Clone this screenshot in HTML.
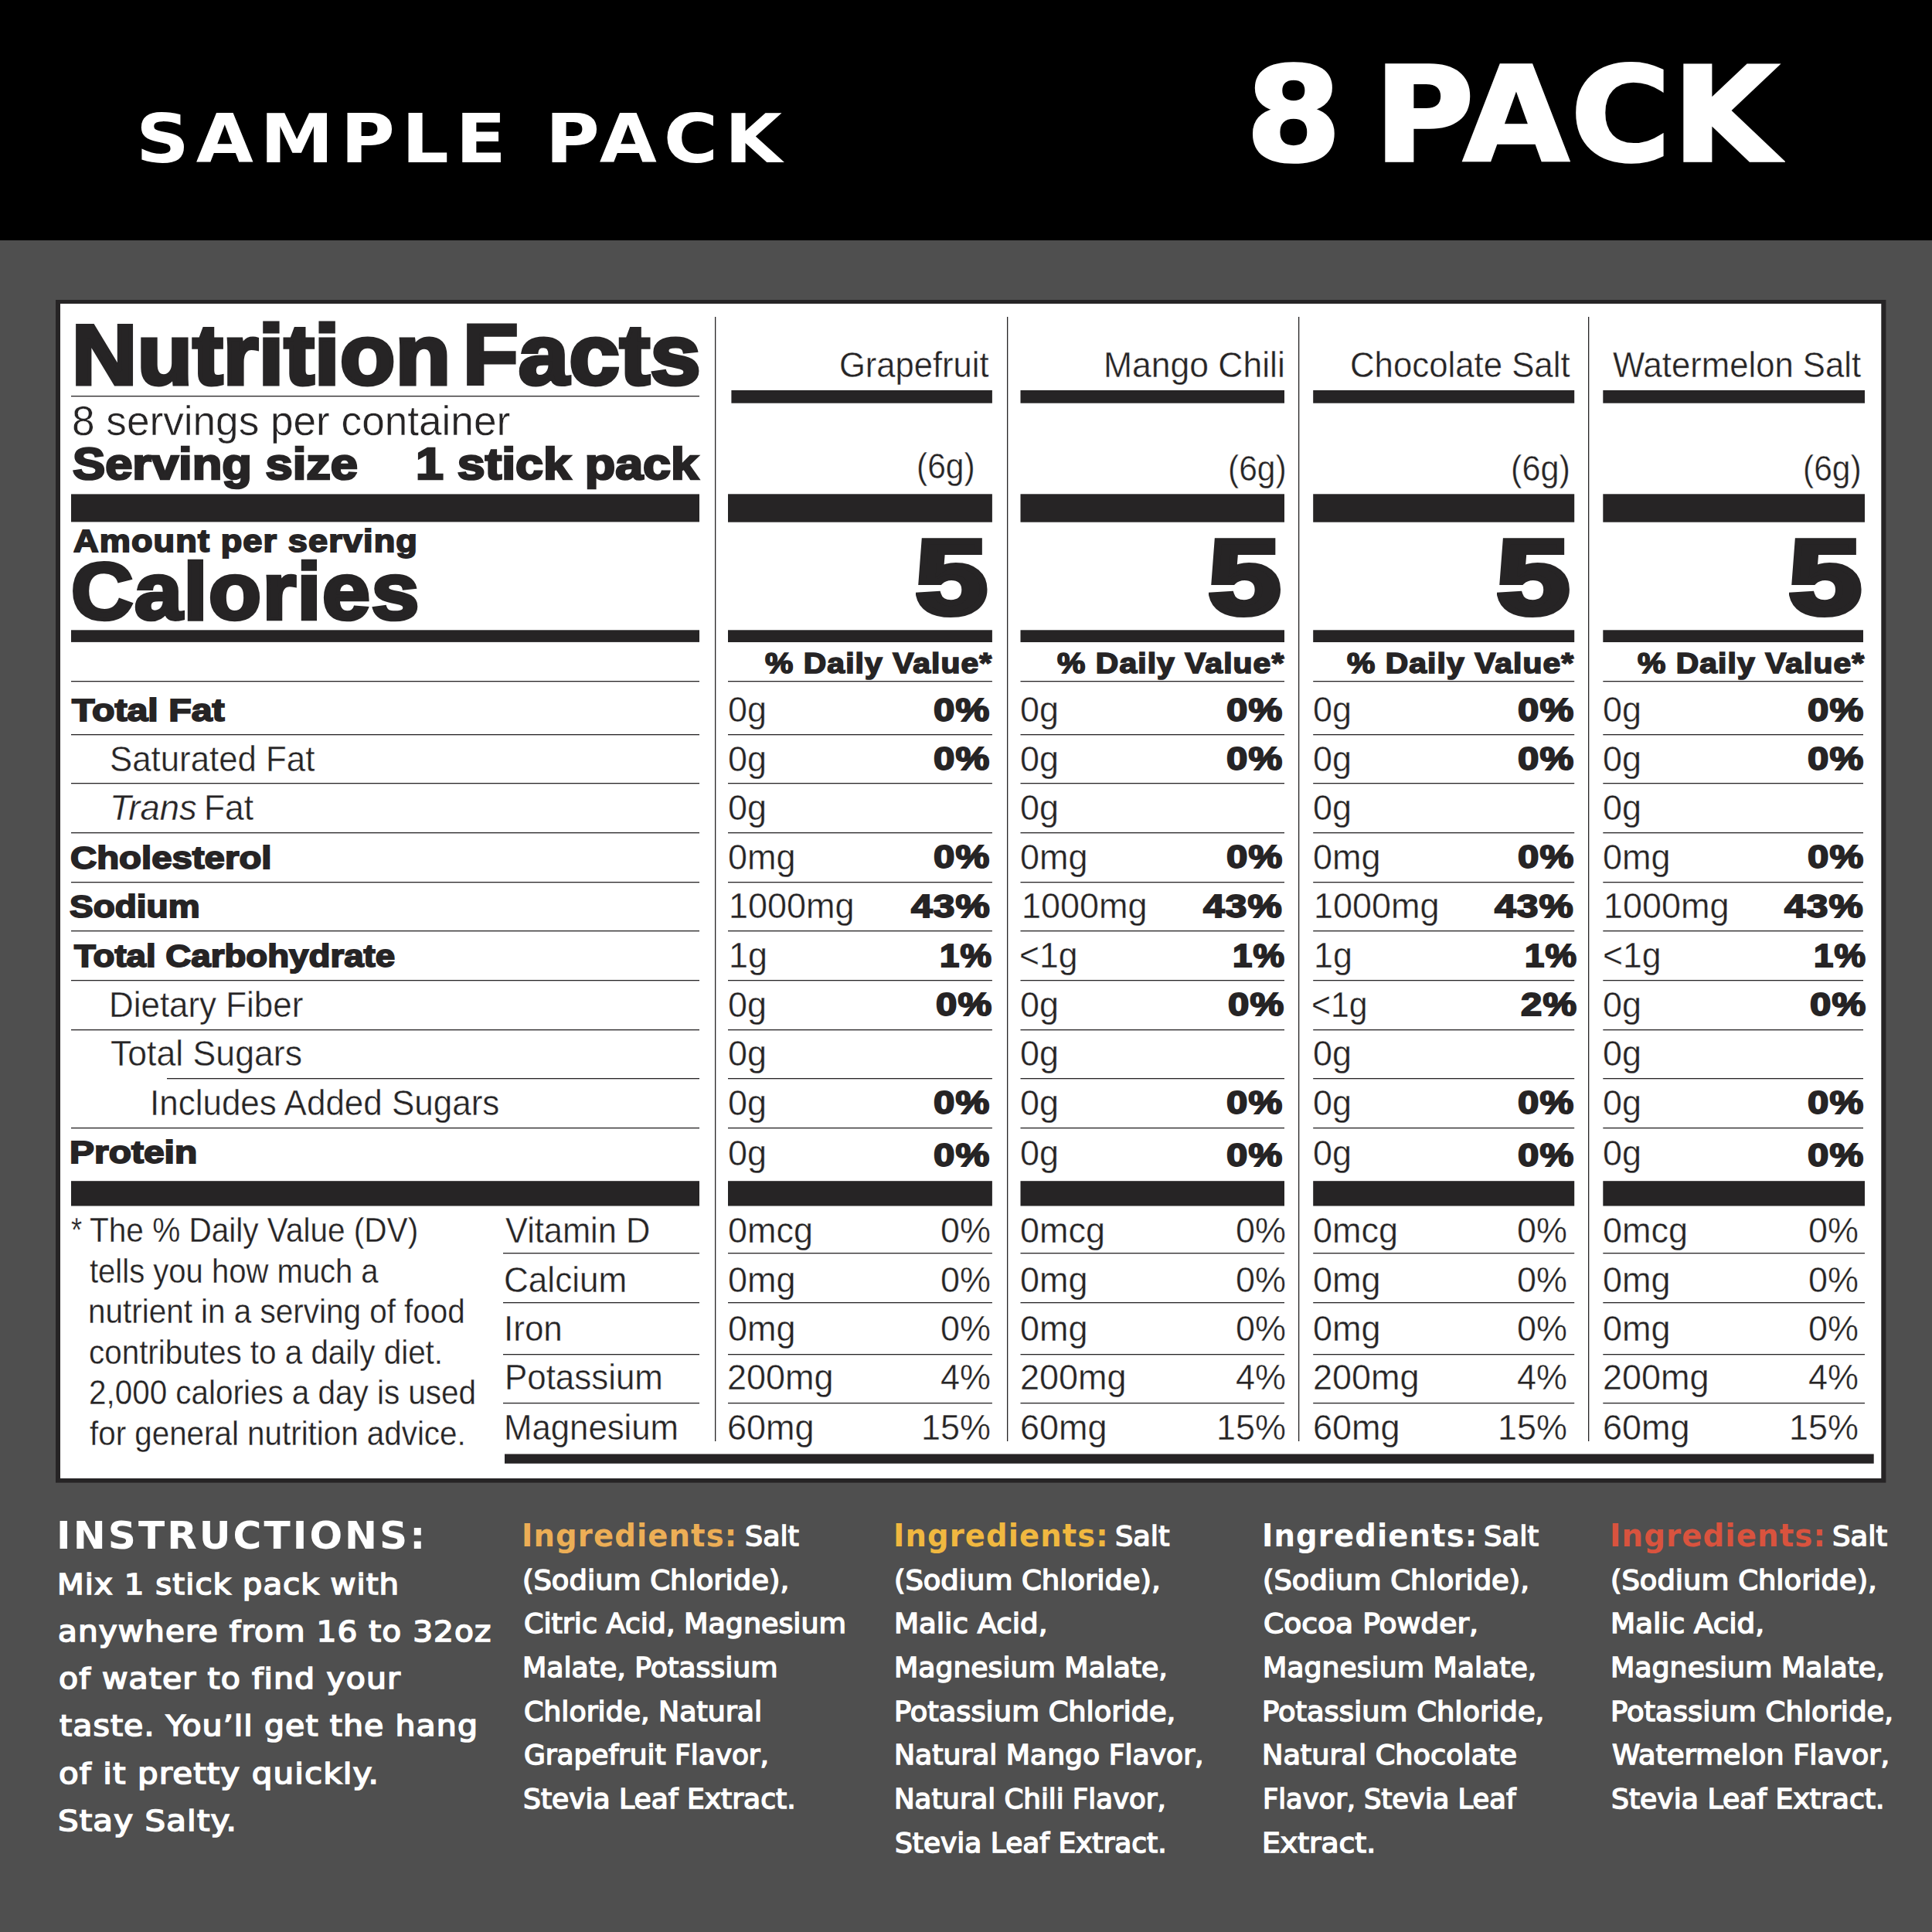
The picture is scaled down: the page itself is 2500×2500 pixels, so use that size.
<!DOCTYPE html>
<html lang="en"><head><meta charset="utf-8"><title>Sample Pack - Nutrition Facts</title>
<style>
html,body{margin:0;padding:0}
body{width:2500px;height:2500px;background:#4f4f4f;position:relative;overflow:hidden}
.t{position:absolute;white-space:nowrap;line-height:1;transform-origin:0 0;color:#262425;font-family:"Liberation Sans",sans-serif;font-weight:400}
.b{position:absolute}
.ri{font-style:italic}
.h{font-weight:700}
.gb,.gx{font-family:"DejaVu Sans","Liberation Sans",sans-serif;font-weight:700;color:#fff}
.gm{font-family:"DejaVu Sans","Liberation Sans",sans-serif;color:#fff}
</style></head>
<body>
<svg class="b" style="left:0;top:0" width="2500" height="2500" viewBox="0 0 2500 2500">
<rect x="0" y="0" width="2500" height="311" fill="#000"/>
<rect x="72" y="388" width="2368.4" height="1530.6" fill="#262425"/>
<rect x="78" y="393" width="2356.3" height="1520" fill="#fff"/>
<rect x="92" y="512" width="813" height="1.3" fill="#262425"/>
<rect x="92" y="639.4" width="813" height="36" fill="#262425"/>
<rect x="92" y="815.3" width="813" height="15.6" fill="#262425"/>
<rect x="92" y="881" width="813" height="1.3" fill="#262425"/>
<rect x="92" y="950" width="813" height="1.3" fill="#262425"/>
<rect x="92" y="1013" width="813" height="1.3" fill="#262425"/>
<rect x="92" y="1077" width="813" height="1.3" fill="#262425"/>
<rect x="92" y="1141" width="813" height="1.3" fill="#262425"/>
<rect x="92" y="1204" width="813" height="1.3" fill="#262425"/>
<rect x="92" y="1268" width="813" height="1.3" fill="#262425"/>
<rect x="92" y="1332" width="813" height="1.3" fill="#262425"/>
<rect x="216" y="1395" width="689" height="1.3" fill="#262425"/>
<rect x="92" y="1459" width="813" height="1.3" fill="#262425"/>
<rect x="92" y="1528.2" width="813" height="32.3" fill="#262425"/>
<rect x="651" y="1621" width="254" height="1.3" fill="#262425"/>
<rect x="651" y="1685" width="254" height="1.3" fill="#262425"/>
<rect x="651" y="1752" width="254" height="1.3" fill="#262425"/>
<rect x="651" y="1815" width="254" height="1.3" fill="#262425"/>
<rect x="653" y="1881.5" width="1771.7" height="12.3" fill="#262425"/>
<rect x="925" y="410" width="1.3" height="1455" fill="#262425"/>
<rect x="1303" y="410" width="1.3" height="1455" fill="#262425"/>
<rect x="1680" y="410" width="1.3" height="1455" fill="#262425"/>
<rect x="2055" y="410" width="1.3" height="1455" fill="#262425"/>
<rect x="946.4" y="505" width="337.5" height="16.7" fill="#262425"/>
<rect x="942" y="639.3" width="341.9" height="36.4" fill="#262425"/>
<rect x="942" y="815.3" width="341.9" height="15.7" fill="#262425"/>
<rect x="942" y="881" width="341.9" height="1.3" fill="#262425"/>
<rect x="942" y="950" width="341.9" height="1.3" fill="#262425"/>
<rect x="942" y="1013" width="341.9" height="1.3" fill="#262425"/>
<rect x="942" y="1077" width="341.9" height="1.3" fill="#262425"/>
<rect x="942" y="1141" width="341.9" height="1.3" fill="#262425"/>
<rect x="942" y="1204" width="341.9" height="1.3" fill="#262425"/>
<rect x="942" y="1268" width="341.9" height="1.3" fill="#262425"/>
<rect x="942" y="1332" width="341.9" height="1.3" fill="#262425"/>
<rect x="942" y="1395" width="341.9" height="1.3" fill="#262425"/>
<rect x="942" y="1459" width="341.9" height="1.3" fill="#262425"/>
<rect x="942" y="1528.2" width="341.9" height="32.3" fill="#262425"/>
<rect x="942" y="1621" width="341.9" height="1.3" fill="#262425"/>
<rect x="942" y="1685" width="341.9" height="1.3" fill="#262425"/>
<rect x="942" y="1752" width="341.9" height="1.3" fill="#262425"/>
<rect x="942" y="1815" width="341.9" height="1.3" fill="#262425"/>
<rect x="1320.5" y="505" width="341.5" height="16.7" fill="#262425"/>
<rect x="1320.5" y="639.3" width="341.5" height="36.4" fill="#262425"/>
<rect x="1320.5" y="815.3" width="341.5" height="15.7" fill="#262425"/>
<rect x="1320.5" y="881" width="341.5" height="1.3" fill="#262425"/>
<rect x="1320.5" y="950" width="341.5" height="1.3" fill="#262425"/>
<rect x="1320.5" y="1013" width="341.5" height="1.3" fill="#262425"/>
<rect x="1320.5" y="1077" width="341.5" height="1.3" fill="#262425"/>
<rect x="1320.5" y="1141" width="341.5" height="1.3" fill="#262425"/>
<rect x="1320.5" y="1204" width="341.5" height="1.3" fill="#262425"/>
<rect x="1320.5" y="1268" width="341.5" height="1.3" fill="#262425"/>
<rect x="1320.5" y="1332" width="341.5" height="1.3" fill="#262425"/>
<rect x="1320.5" y="1395" width="341.5" height="1.3" fill="#262425"/>
<rect x="1320.5" y="1459" width="341.5" height="1.3" fill="#262425"/>
<rect x="1320.5" y="1528.2" width="341.5" height="32.3" fill="#262425"/>
<rect x="1320.5" y="1621" width="341.5" height="1.3" fill="#262425"/>
<rect x="1320.5" y="1685" width="341.5" height="1.3" fill="#262425"/>
<rect x="1320.5" y="1752" width="341.5" height="1.3" fill="#262425"/>
<rect x="1320.5" y="1815" width="341.5" height="1.3" fill="#262425"/>
<rect x="1699.2" y="505" width="338" height="16.7" fill="#262425"/>
<rect x="1699.2" y="639.3" width="338" height="36.4" fill="#262425"/>
<rect x="1699.2" y="815.3" width="338" height="15.7" fill="#262425"/>
<rect x="1699.2" y="881" width="338" height="1.3" fill="#262425"/>
<rect x="1699.2" y="950" width="338" height="1.3" fill="#262425"/>
<rect x="1699.2" y="1013" width="338" height="1.3" fill="#262425"/>
<rect x="1699.2" y="1077" width="338" height="1.3" fill="#262425"/>
<rect x="1699.2" y="1141" width="338" height="1.3" fill="#262425"/>
<rect x="1699.2" y="1204" width="338" height="1.3" fill="#262425"/>
<rect x="1699.2" y="1268" width="338" height="1.3" fill="#262425"/>
<rect x="1699.2" y="1332" width="338" height="1.3" fill="#262425"/>
<rect x="1699.2" y="1395" width="338" height="1.3" fill="#262425"/>
<rect x="1699.2" y="1459" width="338" height="1.3" fill="#262425"/>
<rect x="1699.2" y="1528.2" width="338" height="32.3" fill="#262425"/>
<rect x="1699.2" y="1621" width="338" height="1.3" fill="#262425"/>
<rect x="1699.2" y="1685" width="338" height="1.3" fill="#262425"/>
<rect x="1699.2" y="1752" width="338" height="1.3" fill="#262425"/>
<rect x="1699.2" y="1815" width="338" height="1.3" fill="#262425"/>
<rect x="2074.3" y="505" width="338.7" height="16.7" fill="#262425"/>
<rect x="2074.3" y="639.3" width="338.7" height="36.4" fill="#262425"/>
<rect x="2074.3" y="815.3" width="336.7" height="15.7" fill="#262425"/>
<rect x="2074.3" y="881" width="336.7" height="1.3" fill="#262425"/>
<rect x="2074.3" y="950" width="336.7" height="1.3" fill="#262425"/>
<rect x="2074.3" y="1013" width="336.7" height="1.3" fill="#262425"/>
<rect x="2074.3" y="1077" width="336.7" height="1.3" fill="#262425"/>
<rect x="2074.3" y="1141" width="336.7" height="1.3" fill="#262425"/>
<rect x="2074.3" y="1204" width="336.7" height="1.3" fill="#262425"/>
<rect x="2074.3" y="1268" width="336.7" height="1.3" fill="#262425"/>
<rect x="2074.3" y="1332" width="336.7" height="1.3" fill="#262425"/>
<rect x="2074.3" y="1395" width="336.7" height="1.3" fill="#262425"/>
<rect x="2074.3" y="1459" width="336.7" height="1.3" fill="#262425"/>
<rect x="2074.3" y="1528.2" width="338.7" height="32.3" fill="#262425"/>
<rect x="2074.3" y="1621" width="338.7" height="1.3" fill="#262425"/>
<rect x="2074.3" y="1685" width="338.7" height="1.3" fill="#262425"/>
<rect x="2074.3" y="1752" width="338.7" height="1.3" fill="#262425"/>
<rect x="2074.3" y="1815" width="338.7" height="1.3" fill="#262425"/>
</svg>
<span class="t gb" style="left:176.38px;top:135.85px;font-size:87.81px;transform:scaleX(1.0913);letter-spacing:8px">SAMPLE PACK</span>
<span class="t gx" style="left:1612.36px;top:65.19px;font-size:169.37px;transform:scaleX(1.0509);-webkit-text-stroke:3.55px #fff">8</span>
<span class="t gx" style="left:1777.62px;top:65.19px;font-size:169.37px;transform:scaleX(1.0435);letter-spacing:2px;-webkit-text-stroke:3.55px #fff">PACK</span>
<span class="t h" style="left:93.45px;top:405.30px;font-size:109.29px;transform:scaleX(1.0670);letter-spacing:0.5px;-webkit-text-stroke:5.00px #262425">Nutrition</span>
<span class="t h" style="left:598.53px;top:405.30px;font-size:109.29px;transform:scaleX(1.0701);letter-spacing:0.5px;-webkit-text-stroke:5.00px #262425">Facts</span>
<span class="t r" style="left:93.32px;top:518.20px;font-size:53.95px;transform:scaleX(0.9853);-webkit-text-stroke:0.46px #fff">8 servings per container</span>
<span class="t h" style="left:93.80px;top:572.26px;font-size:56.96px;transform:scaleX(1.1103);-webkit-text-stroke:2.63px #262425">Serving size</span>
<span class="t h" style="left:538.41px;top:572.26px;font-size:56.96px;transform:scaleX(1.1327);-webkit-text-stroke:2.63px #262425">1 stick pack</span>
<span class="t h" style="left:95.10px;top:679.62px;font-size:40.96px;transform:scaleX(1.1017);letter-spacing:1px;-webkit-text-stroke:1.89px #262425">Amount per serving</span>
<span class="t h" style="left:92.28px;top:714.10px;font-size:103.11px;transform:scaleX(1.0793);letter-spacing:1.5px;-webkit-text-stroke:4.60px #262425">Calories</span>
<span class="t h" style="left:92.56px;top:897.77px;font-size:41.45px;transform:scaleX(1.1653);-webkit-text-stroke:1.91px #262425">Total Fat</span>
<span class="t r" style="left:141.69px;top:958.56px;font-size:46.37px;transform:scaleX(0.9445);-webkit-text-stroke:0.40px #fff">Saturated Fat</span>
<span class="t ri" style="left:142.12px;top:1022.16px;font-size:46.37px;transform:scaleX(0.9783);-webkit-text-stroke:0.40px #fff">Trans</span>
<span class="t r" style="left:264.48px;top:1022.16px;font-size:46.37px;transform:scaleX(0.9560);-webkit-text-stroke:0.40px #fff">Fat</span>
<span class="t h" style="left:91.13px;top:1088.57px;font-size:41.45px;transform:scaleX(1.1426);-webkit-text-stroke:1.91px #262425">Cholesterol</span>
<span class="t h" style="left:90.28px;top:1152.17px;font-size:41.45px;transform:scaleX(1.1090);-webkit-text-stroke:1.91px #262425">Sodium</span>
<span class="t h" style="left:95.73px;top:1215.77px;font-size:41.45px;transform:scaleX(1.1017);-webkit-text-stroke:1.91px #262425">Total Carbohydrate</span>
<span class="t r" style="left:141.22px;top:1276.56px;font-size:46.37px;transform:scaleX(0.9471);-webkit-text-stroke:0.40px #fff">Dietary Fiber</span>
<span class="t r" style="left:142.89px;top:1340.16px;font-size:46.37px;transform:scaleX(0.9622);-webkit-text-stroke:0.40px #fff">Total Sugars</span>
<span class="t r" style="left:194.33px;top:1403.76px;font-size:46.37px;transform:scaleX(0.9486);-webkit-text-stroke:0.40px #fff">Includes Added Sugars</span>
<span class="t h" style="left:90.11px;top:1470.17px;font-size:41.45px;transform:scaleX(1.1572);-webkit-text-stroke:1.91px #262425">Protein</span>
<span class="t c" style="left:92.05px;top:1569.21px;font-size:45.19px;transform:scaleX(0.8013);-webkit-text-stroke:0.30px #fff">*</span>
<span class="t c" style="left:115.75px;top:1569.21px;font-size:45.19px;transform:scaleX(0.8974);-webkit-text-stroke:0.30px #fff">The % Daily Value (DV)</span>
<span class="t c" style="left:116.06px;top:1621.67px;font-size:45.19px;transform:scaleX(0.8854);-webkit-text-stroke:0.30px #fff">tells you how much a</span>
<span class="t c" style="left:113.94px;top:1674.13px;font-size:45.19px;transform:scaleX(0.8949);-webkit-text-stroke:0.30px #fff">nutrient in a serving of food</span>
<span class="t c" style="left:114.93px;top:1726.59px;font-size:45.19px;transform:scaleX(0.8939);-webkit-text-stroke:0.30px #fff">contributes to a daily diet.</span>
<span class="t c" style="left:114.62px;top:1779.05px;font-size:45.19px;transform:scaleX(0.8944);-webkit-text-stroke:0.30px #fff">2,000 calories a day is used</span>
<span class="t c" style="left:116.09px;top:1831.51px;font-size:45.19px;transform:scaleX(0.8929);-webkit-text-stroke:0.30px #fff">for general nutrition advice.</span>
<span class="t r" style="left:654.32px;top:1568.96px;font-size:46.37px;transform:scaleX(0.9358);-webkit-text-stroke:0.40px #fff">Vitamin D</span>
<span class="t r" style="left:652.02px;top:1632.76px;font-size:46.37px;transform:scaleX(0.9506);-webkit-text-stroke:0.40px #fff">Calcium</span>
<span class="t r" style="left:652.03px;top:1695.96px;font-size:46.37px;transform:scaleX(0.9493);-webkit-text-stroke:0.40px #fff">Iron</span>
<span class="t r" style="left:652.52px;top:1759.46px;font-size:46.37px;transform:scaleX(0.9466);-webkit-text-stroke:0.40px #fff">Potassium</span>
<span class="t r" style="left:651.63px;top:1823.76px;font-size:46.37px;transform:scaleX(0.9433);-webkit-text-stroke:0.40px #fff">Magnesium</span>
<span class="t r" style="left:1085.98px;top:448.92px;font-size:46.05px;transform:scaleX(0.9452);-webkit-text-stroke:0.39px #fff">Grapefruit</span>
<span class="t r" style="left:1185.95px;top:580.16px;font-size:46.37px;transform:scaleX(0.9184);-webkit-text-stroke:0.40px #fff">(6g)</span>
<span class="t h" style="left:1185.17px;top:680.13px;font-size:135.84px;transform:scaleX(1.2207);-webkit-text-stroke:8.00px #262425">5</span>
<span class="t h" style="left:990.15px;top:839.71px;font-size:37.55px;transform:scaleX(1.0871);letter-spacing:1px;-webkit-text-stroke:1.73px #262425">% Daily Value*</span>
<span class="t r" style="left:941.83px;top:894.96px;font-size:46.37px;transform:scaleX(0.9700);-webkit-text-stroke:0.40px #fff">0g</span>
<span class="t h" style="left:1208.07px;top:897.51px;font-size:41.94px;transform:scaleX(1.1727);letter-spacing:1px;-webkit-text-stroke:1.93px #262425">0%</span>
<span class="t r" style="left:941.83px;top:958.56px;font-size:46.37px;transform:scaleX(0.9700);-webkit-text-stroke:0.40px #fff">0g</span>
<span class="t h" style="left:1208.07px;top:961.11px;font-size:41.94px;transform:scaleX(1.1727);letter-spacing:1px;-webkit-text-stroke:1.93px #262425">0%</span>
<span class="t r" style="left:941.83px;top:1022.16px;font-size:46.37px;transform:scaleX(0.9700);-webkit-text-stroke:0.40px #fff">0g</span>
<span class="t r" style="left:941.83px;top:1085.76px;font-size:46.37px;transform:scaleX(0.9700);-webkit-text-stroke:0.40px #fff">0mg</span>
<span class="t h" style="left:1208.07px;top:1088.31px;font-size:41.94px;transform:scaleX(1.1727);letter-spacing:1px;-webkit-text-stroke:1.93px #262425">0%</span>
<span class="t r" style="left:943.18px;top:1149.36px;font-size:46.37px;transform:scaleX(0.9700);-webkit-text-stroke:0.40px #fff">1000mg</span>
<span class="t h" style="left:1178.58px;top:1151.91px;font-size:41.94px;transform:scaleX(1.1841);letter-spacing:1px;-webkit-text-stroke:1.93px #262425">43%</span>
<span class="t r" style="left:943.18px;top:1212.96px;font-size:46.37px;transform:scaleX(0.9700);-webkit-text-stroke:0.40px #fff">1g</span>
<span class="t h" style="left:1216.38px;top:1215.51px;font-size:41.94px;transform:scaleX(1.0863);letter-spacing:1px;-webkit-text-stroke:1.93px #262425">1%</span>
<span class="t r" style="left:941.83px;top:1276.56px;font-size:46.37px;transform:scaleX(0.9700);-webkit-text-stroke:0.40px #fff">0g</span>
<span class="t h" style="left:1210.87px;top:1279.11px;font-size:41.94px;transform:scaleX(1.1727);letter-spacing:1px;-webkit-text-stroke:1.93px #262425">0%</span>
<span class="t r" style="left:941.83px;top:1340.16px;font-size:46.37px;transform:scaleX(0.9700);-webkit-text-stroke:0.40px #fff">0g</span>
<span class="t r" style="left:941.83px;top:1403.76px;font-size:46.37px;transform:scaleX(0.9700);-webkit-text-stroke:0.40px #fff">0g</span>
<span class="t h" style="left:1208.07px;top:1406.31px;font-size:41.94px;transform:scaleX(1.1727);letter-spacing:1px;-webkit-text-stroke:1.93px #262425">0%</span>
<span class="t r" style="left:941.83px;top:1468.56px;font-size:46.37px;transform:scaleX(0.9700);-webkit-text-stroke:0.40px #fff">0g</span>
<span class="t h" style="left:1208.07px;top:1474.41px;font-size:41.94px;transform:scaleX(1.1727);letter-spacing:1px;-webkit-text-stroke:1.93px #262425">0%</span>
<span class="t r" style="left:941.83px;top:1568.96px;font-size:46.37px;transform:scaleX(0.9700);-webkit-text-stroke:0.40px #fff">0mcg</span>
<span class="t r" style="left:1216.55px;top:1568.96px;font-size:46.37px;transform:scaleX(0.9700);-webkit-text-stroke:0.40px #fff">0%</span>
<span class="t r" style="left:941.83px;top:1632.76px;font-size:46.37px;transform:scaleX(0.9700);-webkit-text-stroke:0.40px #fff">0mg</span>
<span class="t r" style="left:1216.55px;top:1632.76px;font-size:46.37px;transform:scaleX(0.9700);-webkit-text-stroke:0.40px #fff">0%</span>
<span class="t r" style="left:941.83px;top:1695.96px;font-size:46.37px;transform:scaleX(0.9700);-webkit-text-stroke:0.40px #fff">0mg</span>
<span class="t r" style="left:1216.55px;top:1695.96px;font-size:46.37px;transform:scaleX(0.9700);-webkit-text-stroke:0.40px #fff">0%</span>
<span class="t r" style="left:941.33px;top:1759.46px;font-size:46.37px;transform:scaleX(0.9700);-webkit-text-stroke:0.40px #fff">200mg</span>
<span class="t r" style="left:1216.55px;top:1759.46px;font-size:46.37px;transform:scaleX(0.9700);-webkit-text-stroke:0.40px #fff">4%</span>
<span class="t r" style="left:941.30px;top:1823.76px;font-size:46.37px;transform:scaleX(0.9700);-webkit-text-stroke:0.40px #fff">60mg</span>
<span class="t r" style="left:1191.55px;top:1823.76px;font-size:46.37px;transform:scaleX(0.9700);-webkit-text-stroke:0.40px #fff">15%</span>
<span class="t r" style="left:1428.16px;top:448.92px;font-size:46.05px;transform:scaleX(0.9658);-webkit-text-stroke:0.39px #fff">Mango Chili</span>
<span class="t r" style="left:1588.75px;top:583.26px;font-size:46.37px;transform:scaleX(0.9170);-webkit-text-stroke:0.40px #fff">(6g)</span>
<span class="t h" style="left:1564.07px;top:680.13px;font-size:135.84px;transform:scaleX(1.2273);-webkit-text-stroke:8.00px #262425">5</span>
<span class="t h" style="left:1368.15px;top:839.71px;font-size:37.55px;transform:scaleX(1.0875);letter-spacing:1px;-webkit-text-stroke:1.73px #262425">% Daily Value*</span>
<span class="t r" style="left:1320.33px;top:894.96px;font-size:46.37px;transform:scaleX(0.9700);-webkit-text-stroke:0.40px #fff">0g</span>
<span class="t h" style="left:1586.57px;top:897.51px;font-size:41.94px;transform:scaleX(1.1727);letter-spacing:1px;-webkit-text-stroke:1.93px #262425">0%</span>
<span class="t r" style="left:1320.33px;top:958.56px;font-size:46.37px;transform:scaleX(0.9700);-webkit-text-stroke:0.40px #fff">0g</span>
<span class="t h" style="left:1586.57px;top:961.11px;font-size:41.94px;transform:scaleX(1.1727);letter-spacing:1px;-webkit-text-stroke:1.93px #262425">0%</span>
<span class="t r" style="left:1320.33px;top:1022.16px;font-size:46.37px;transform:scaleX(0.9700);-webkit-text-stroke:0.40px #fff">0g</span>
<span class="t r" style="left:1320.33px;top:1085.76px;font-size:46.37px;transform:scaleX(0.9700);-webkit-text-stroke:0.40px #fff">0mg</span>
<span class="t h" style="left:1586.57px;top:1088.31px;font-size:41.94px;transform:scaleX(1.1727);letter-spacing:1px;-webkit-text-stroke:1.93px #262425">0%</span>
<span class="t r" style="left:1321.68px;top:1149.36px;font-size:46.37px;transform:scaleX(0.9700);-webkit-text-stroke:0.40px #fff">1000mg</span>
<span class="t h" style="left:1557.08px;top:1151.91px;font-size:41.94px;transform:scaleX(1.1841);letter-spacing:1px;-webkit-text-stroke:1.93px #262425">43%</span>
<span class="t r" style="left:1318.60px;top:1212.96px;font-size:46.37px;transform:scaleX(0.9602);-webkit-text-stroke:0.40px #fff">&lt;1g</span>
<span class="t h" style="left:1594.88px;top:1215.51px;font-size:41.94px;transform:scaleX(1.0863);letter-spacing:1px;-webkit-text-stroke:1.93px #262425">1%</span>
<span class="t r" style="left:1320.33px;top:1276.56px;font-size:46.37px;transform:scaleX(0.9700);-webkit-text-stroke:0.40px #fff">0g</span>
<span class="t h" style="left:1589.37px;top:1279.11px;font-size:41.94px;transform:scaleX(1.1727);letter-spacing:1px;-webkit-text-stroke:1.93px #262425">0%</span>
<span class="t r" style="left:1320.33px;top:1340.16px;font-size:46.37px;transform:scaleX(0.9700);-webkit-text-stroke:0.40px #fff">0g</span>
<span class="t r" style="left:1320.33px;top:1403.76px;font-size:46.37px;transform:scaleX(0.9700);-webkit-text-stroke:0.40px #fff">0g</span>
<span class="t h" style="left:1586.57px;top:1406.31px;font-size:41.94px;transform:scaleX(1.1727);letter-spacing:1px;-webkit-text-stroke:1.93px #262425">0%</span>
<span class="t r" style="left:1320.33px;top:1468.56px;font-size:46.37px;transform:scaleX(0.9700);-webkit-text-stroke:0.40px #fff">0g</span>
<span class="t h" style="left:1586.57px;top:1474.41px;font-size:41.94px;transform:scaleX(1.1727);letter-spacing:1px;-webkit-text-stroke:1.93px #262425">0%</span>
<span class="t r" style="left:1320.33px;top:1568.96px;font-size:46.37px;transform:scaleX(0.9700);-webkit-text-stroke:0.40px #fff">0mcg</span>
<span class="t r" style="left:1598.85px;top:1568.96px;font-size:46.37px;transform:scaleX(0.9700);-webkit-text-stroke:0.40px #fff">0%</span>
<span class="t r" style="left:1320.33px;top:1632.76px;font-size:46.37px;transform:scaleX(0.9700);-webkit-text-stroke:0.40px #fff">0mg</span>
<span class="t r" style="left:1598.85px;top:1632.76px;font-size:46.37px;transform:scaleX(0.9700);-webkit-text-stroke:0.40px #fff">0%</span>
<span class="t r" style="left:1320.33px;top:1695.96px;font-size:46.37px;transform:scaleX(0.9700);-webkit-text-stroke:0.40px #fff">0mg</span>
<span class="t r" style="left:1598.85px;top:1695.96px;font-size:46.37px;transform:scaleX(0.9700);-webkit-text-stroke:0.40px #fff">0%</span>
<span class="t r" style="left:1319.83px;top:1759.46px;font-size:46.37px;transform:scaleX(0.9700);-webkit-text-stroke:0.40px #fff">200mg</span>
<span class="t r" style="left:1598.85px;top:1759.46px;font-size:46.37px;transform:scaleX(0.9700);-webkit-text-stroke:0.40px #fff">4%</span>
<span class="t r" style="left:1319.80px;top:1823.76px;font-size:46.37px;transform:scaleX(0.9700);-webkit-text-stroke:0.40px #fff">60mg</span>
<span class="t r" style="left:1573.85px;top:1823.76px;font-size:46.37px;transform:scaleX(0.9700);-webkit-text-stroke:0.40px #fff">15%</span>
<span class="t r" style="left:1747.24px;top:448.92px;font-size:46.05px;transform:scaleX(0.9502);-webkit-text-stroke:0.39px #fff">Chocolate Salt</span>
<span class="t r" style="left:1954.61px;top:583.26px;font-size:46.37px;transform:scaleX(0.9315);-webkit-text-stroke:0.40px #fff">(6g)</span>
<span class="t h" style="left:1937.46px;top:680.13px;font-size:135.84px;transform:scaleX(1.2393);-webkit-text-stroke:8.00px #262425">5</span>
<span class="t h" style="left:1743.35px;top:839.71px;font-size:37.55px;transform:scaleX(1.0867);letter-spacing:1px;-webkit-text-stroke:1.73px #262425">% Daily Value*</span>
<span class="t r" style="left:1699.03px;top:894.96px;font-size:46.37px;transform:scaleX(0.9700);-webkit-text-stroke:0.40px #fff">0g</span>
<span class="t h" style="left:1963.57px;top:897.51px;font-size:41.94px;transform:scaleX(1.1727);letter-spacing:1px;-webkit-text-stroke:1.93px #262425">0%</span>
<span class="t r" style="left:1699.03px;top:958.56px;font-size:46.37px;transform:scaleX(0.9700);-webkit-text-stroke:0.40px #fff">0g</span>
<span class="t h" style="left:1963.57px;top:961.11px;font-size:41.94px;transform:scaleX(1.1727);letter-spacing:1px;-webkit-text-stroke:1.93px #262425">0%</span>
<span class="t r" style="left:1699.03px;top:1022.16px;font-size:46.37px;transform:scaleX(0.9700);-webkit-text-stroke:0.40px #fff">0g</span>
<span class="t r" style="left:1699.03px;top:1085.76px;font-size:46.37px;transform:scaleX(0.9700);-webkit-text-stroke:0.40px #fff">0mg</span>
<span class="t h" style="left:1963.57px;top:1088.31px;font-size:41.94px;transform:scaleX(1.1727);letter-spacing:1px;-webkit-text-stroke:1.93px #262425">0%</span>
<span class="t r" style="left:1700.38px;top:1149.36px;font-size:46.37px;transform:scaleX(0.9700);-webkit-text-stroke:0.40px #fff">1000mg</span>
<span class="t h" style="left:1934.08px;top:1151.91px;font-size:41.94px;transform:scaleX(1.1841);letter-spacing:1px;-webkit-text-stroke:1.93px #262425">43%</span>
<span class="t r" style="left:1700.38px;top:1212.96px;font-size:46.37px;transform:scaleX(0.9700);-webkit-text-stroke:0.40px #fff">1g</span>
<span class="t h" style="left:1973.48px;top:1215.51px;font-size:41.94px;transform:scaleX(1.0863);letter-spacing:1px;-webkit-text-stroke:1.93px #262425">1%</span>
<span class="t r" style="left:1697.40px;top:1276.56px;font-size:46.37px;transform:scaleX(0.9218);-webkit-text-stroke:0.40px #fff">&lt;1g</span>
<span class="t h" style="left:1968.42px;top:1279.11px;font-size:41.94px;transform:scaleX(1.1687);letter-spacing:1px;-webkit-text-stroke:1.93px #262425">2%</span>
<span class="t r" style="left:1699.03px;top:1340.16px;font-size:46.37px;transform:scaleX(0.9700);-webkit-text-stroke:0.40px #fff">0g</span>
<span class="t r" style="left:1699.03px;top:1403.76px;font-size:46.37px;transform:scaleX(0.9700);-webkit-text-stroke:0.40px #fff">0g</span>
<span class="t h" style="left:1963.57px;top:1406.31px;font-size:41.94px;transform:scaleX(1.1727);letter-spacing:1px;-webkit-text-stroke:1.93px #262425">0%</span>
<span class="t r" style="left:1699.03px;top:1468.56px;font-size:46.37px;transform:scaleX(0.9700);-webkit-text-stroke:0.40px #fff">0g</span>
<span class="t h" style="left:1963.57px;top:1474.41px;font-size:41.94px;transform:scaleX(1.1727);letter-spacing:1px;-webkit-text-stroke:1.93px #262425">0%</span>
<span class="t r" style="left:1699.03px;top:1568.96px;font-size:46.37px;transform:scaleX(0.9700);-webkit-text-stroke:0.40px #fff">0mcg</span>
<span class="t r" style="left:1962.75px;top:1568.96px;font-size:46.37px;transform:scaleX(0.9700);-webkit-text-stroke:0.40px #fff">0%</span>
<span class="t r" style="left:1699.03px;top:1632.76px;font-size:46.37px;transform:scaleX(0.9700);-webkit-text-stroke:0.40px #fff">0mg</span>
<span class="t r" style="left:1962.75px;top:1632.76px;font-size:46.37px;transform:scaleX(0.9700);-webkit-text-stroke:0.40px #fff">0%</span>
<span class="t r" style="left:1699.03px;top:1695.96px;font-size:46.37px;transform:scaleX(0.9700);-webkit-text-stroke:0.40px #fff">0mg</span>
<span class="t r" style="left:1962.75px;top:1695.96px;font-size:46.37px;transform:scaleX(0.9700);-webkit-text-stroke:0.40px #fff">0%</span>
<span class="t r" style="left:1698.53px;top:1759.46px;font-size:46.37px;transform:scaleX(0.9700);-webkit-text-stroke:0.40px #fff">200mg</span>
<span class="t r" style="left:1962.75px;top:1759.46px;font-size:46.37px;transform:scaleX(0.9700);-webkit-text-stroke:0.40px #fff">4%</span>
<span class="t r" style="left:1698.50px;top:1823.76px;font-size:46.37px;transform:scaleX(0.9700);-webkit-text-stroke:0.40px #fff">60mg</span>
<span class="t r" style="left:1937.75px;top:1823.76px;font-size:46.37px;transform:scaleX(0.9700);-webkit-text-stroke:0.40px #fff">15%</span>
<span class="t r" style="left:2087.47px;top:448.92px;font-size:46.05px;transform:scaleX(0.9480);-webkit-text-stroke:0.39px #fff">Watermelon Salt</span>
<span class="t r" style="left:2332.65px;top:583.26px;font-size:46.37px;transform:scaleX(0.9184);-webkit-text-stroke:0.40px #fff">(6g)</span>
<span class="t h" style="left:2315.46px;top:680.13px;font-size:135.84px;transform:scaleX(1.2353);-webkit-text-stroke:8.00px #262425">5</span>
<span class="t h" style="left:2119.35px;top:839.71px;font-size:37.55px;transform:scaleX(1.0867);letter-spacing:1px;-webkit-text-stroke:1.73px #262425">% Daily Value*</span>
<span class="t r" style="left:2074.13px;top:894.96px;font-size:46.37px;transform:scaleX(0.9700);-webkit-text-stroke:0.40px #fff">0g</span>
<span class="t h" style="left:2338.97px;top:897.51px;font-size:41.94px;transform:scaleX(1.1727);letter-spacing:1px;-webkit-text-stroke:1.93px #262425">0%</span>
<span class="t r" style="left:2074.13px;top:958.56px;font-size:46.37px;transform:scaleX(0.9700);-webkit-text-stroke:0.40px #fff">0g</span>
<span class="t h" style="left:2338.97px;top:961.11px;font-size:41.94px;transform:scaleX(1.1727);letter-spacing:1px;-webkit-text-stroke:1.93px #262425">0%</span>
<span class="t r" style="left:2074.13px;top:1022.16px;font-size:46.37px;transform:scaleX(0.9700);-webkit-text-stroke:0.40px #fff">0g</span>
<span class="t r" style="left:2074.13px;top:1085.76px;font-size:46.37px;transform:scaleX(0.9700);-webkit-text-stroke:0.40px #fff">0mg</span>
<span class="t h" style="left:2338.97px;top:1088.31px;font-size:41.94px;transform:scaleX(1.1727);letter-spacing:1px;-webkit-text-stroke:1.93px #262425">0%</span>
<span class="t r" style="left:2075.48px;top:1149.36px;font-size:46.37px;transform:scaleX(0.9700);-webkit-text-stroke:0.40px #fff">1000mg</span>
<span class="t h" style="left:2309.48px;top:1151.91px;font-size:41.94px;transform:scaleX(1.1841);letter-spacing:1px;-webkit-text-stroke:1.93px #262425">43%</span>
<span class="t r" style="left:2074.20px;top:1212.96px;font-size:46.37px;transform:scaleX(0.9602);-webkit-text-stroke:0.40px #fff">&lt;1g</span>
<span class="t h" style="left:2347.28px;top:1215.51px;font-size:41.94px;transform:scaleX(1.0863);letter-spacing:1px;-webkit-text-stroke:1.93px #262425">1%</span>
<span class="t r" style="left:2074.13px;top:1276.56px;font-size:46.37px;transform:scaleX(0.9700);-webkit-text-stroke:0.40px #fff">0g</span>
<span class="t h" style="left:2341.77px;top:1279.11px;font-size:41.94px;transform:scaleX(1.1727);letter-spacing:1px;-webkit-text-stroke:1.93px #262425">0%</span>
<span class="t r" style="left:2074.13px;top:1340.16px;font-size:46.37px;transform:scaleX(0.9700);-webkit-text-stroke:0.40px #fff">0g</span>
<span class="t r" style="left:2074.13px;top:1403.76px;font-size:46.37px;transform:scaleX(0.9700);-webkit-text-stroke:0.40px #fff">0g</span>
<span class="t h" style="left:2338.97px;top:1406.31px;font-size:41.94px;transform:scaleX(1.1727);letter-spacing:1px;-webkit-text-stroke:1.93px #262425">0%</span>
<span class="t r" style="left:2074.13px;top:1468.56px;font-size:46.37px;transform:scaleX(0.9700);-webkit-text-stroke:0.40px #fff">0g</span>
<span class="t h" style="left:2338.97px;top:1474.41px;font-size:41.94px;transform:scaleX(1.1727);letter-spacing:1px;-webkit-text-stroke:1.93px #262425">0%</span>
<span class="t r" style="left:2074.13px;top:1568.96px;font-size:46.37px;transform:scaleX(0.9700);-webkit-text-stroke:0.40px #fff">0mcg</span>
<span class="t r" style="left:2339.55px;top:1568.96px;font-size:46.37px;transform:scaleX(0.9700);-webkit-text-stroke:0.40px #fff">0%</span>
<span class="t r" style="left:2074.13px;top:1632.76px;font-size:46.37px;transform:scaleX(0.9700);-webkit-text-stroke:0.40px #fff">0mg</span>
<span class="t r" style="left:2339.55px;top:1632.76px;font-size:46.37px;transform:scaleX(0.9700);-webkit-text-stroke:0.40px #fff">0%</span>
<span class="t r" style="left:2074.13px;top:1695.96px;font-size:46.37px;transform:scaleX(0.9700);-webkit-text-stroke:0.40px #fff">0mg</span>
<span class="t r" style="left:2339.55px;top:1695.96px;font-size:46.37px;transform:scaleX(0.9700);-webkit-text-stroke:0.40px #fff">0%</span>
<span class="t r" style="left:2073.63px;top:1759.46px;font-size:46.37px;transform:scaleX(0.9700);-webkit-text-stroke:0.40px #fff">200mg</span>
<span class="t r" style="left:2339.55px;top:1759.46px;font-size:46.37px;transform:scaleX(0.9700);-webkit-text-stroke:0.40px #fff">4%</span>
<span class="t r" style="left:2073.60px;top:1823.76px;font-size:46.37px;transform:scaleX(0.9700);-webkit-text-stroke:0.40px #fff">60mg</span>
<span class="t r" style="left:2314.55px;top:1823.76px;font-size:46.37px;transform:scaleX(0.9700);-webkit-text-stroke:0.40px #fff">15%</span>
<span class="t gb" style="left:72.79px;top:1963.25px;font-size:49.40px;transform:scaleX(1.0154);letter-spacing:3px">INSTRUCTIONS:</span>
<span class="t gm" style="left:73.91px;top:2032.36px;font-size:37.56px;transform:scaleX(1.0712);letter-spacing:1px;-webkit-text-stroke:1.62px #fff">Mix 1 stick pack with</span>
<span class="t gm" style="left:75.33px;top:2093.40px;font-size:37.56px;transform:scaleX(1.0807);letter-spacing:1px;-webkit-text-stroke:1.62px #fff">anywhere from 16 to 32oz</span>
<span class="t gm" style="left:75.55px;top:2154.44px;font-size:37.56px;transform:scaleX(1.0932);letter-spacing:1px;-webkit-text-stroke:1.62px #fff">of water to find your</span>
<span class="t gm" style="left:76.77px;top:2215.48px;font-size:37.56px;transform:scaleX(1.0929);letter-spacing:1px;-webkit-text-stroke:1.62px #fff">taste. You’ll get the hang</span>
<span class="t gm" style="left:75.52px;top:2276.52px;font-size:37.56px;transform:scaleX(1.1183);letter-spacing:1px;-webkit-text-stroke:1.62px #fff">of it pretty quickly.</span>
<span class="t gm" style="left:75.08px;top:2337.56px;font-size:37.56px;transform:scaleX(1.1173);letter-spacing:1px;-webkit-text-stroke:1.62px #fff">Stay Salty.</span>
<span class="t gb" style="left:675.35px;top:1966.77px;font-size:41.15px;transform:scaleX(0.9372);letter-spacing:1.2px;color:#ecae56">Ingredients:</span>
<span class="t gm" style="left:963.92px;top:1970.13px;font-size:35.89px;transform:scaleX(1.0156);-webkit-text-stroke:1.55px #fff">Salt</span>
<span class="t gm" style="left:676.47px;top:2026.78px;font-size:35.89px;transform:scaleX(1.0296);-webkit-text-stroke:1.55px #fff">(Sodium Chloride),</span>
<span class="t gm" style="left:677.60px;top:2083.43px;font-size:35.89px;transform:scaleX(1.0147);-webkit-text-stroke:1.55px #fff">Citric Acid, Magnesium</span>
<span class="t gm" style="left:676.12px;top:2140.08px;font-size:35.89px;transform:scaleX(1.0099);-webkit-text-stroke:1.55px #fff">Malate, Potassium</span>
<span class="t gm" style="left:677.60px;top:2196.73px;font-size:35.89px;transform:scaleX(1.0119);-webkit-text-stroke:1.55px #fff">Chloride, Natural</span>
<span class="t gm" style="left:677.62px;top:2253.38px;font-size:35.89px;transform:scaleX(1.0005);-webkit-text-stroke:1.55px #fff">Grapefruit Flavor,</span>
<span class="t gm" style="left:677.23px;top:2310.03px;font-size:35.89px;transform:scaleX(1.0050);-webkit-text-stroke:1.55px #fff">Stevia Leaf Extract.</span>
<span class="t gb" style="left:1155.86px;top:1966.77px;font-size:41.15px;transform:scaleX(0.9355);letter-spacing:1.2px;color:#f0b840">Ingredients:</span>
<span class="t gm" style="left:1443.30px;top:1970.13px;font-size:35.89px;transform:scaleX(1.0246);-webkit-text-stroke:1.55px #fff">Salt</span>
<span class="t gm" style="left:1156.98px;top:2026.78px;font-size:35.89px;transform:scaleX(1.0281);-webkit-text-stroke:1.55px #fff">(Sodium Chloride),</span>
<span class="t gm" style="left:1156.55px;top:2083.43px;font-size:35.89px;transform:scaleX(1.0349);-webkit-text-stroke:1.55px #fff">Malic Acid,</span>
<span class="t gm" style="left:1156.62px;top:2140.08px;font-size:35.89px;transform:scaleX(1.0089);-webkit-text-stroke:1.55px #fff">Magnesium Malate,</span>
<span class="t gm" style="left:1156.58px;top:2196.73px;font-size:35.89px;transform:scaleX(1.0249);-webkit-text-stroke:1.55px #fff">Potassium Chloride,</span>
<span class="t gm" style="left:1156.63px;top:2253.38px;font-size:35.89px;transform:scaleX(1.0078);-webkit-text-stroke:1.55px #fff">Natural Mango Flavor,</span>
<span class="t gm" style="left:1156.67px;top:2310.03px;font-size:35.89px;transform:scaleX(0.9915);-webkit-text-stroke:1.55px #fff">Natural Chili Flavor,</span>
<span class="t gm" style="left:1157.74px;top:2366.68px;font-size:35.89px;transform:scaleX(1.0021);-webkit-text-stroke:1.55px #fff">Stevia Leaf Extract.</span>
<span class="t gb" style="left:1632.75px;top:1966.77px;font-size:41.15px;transform:scaleX(0.9376);letter-spacing:1.2px;color:#ffffff">Ingredients:</span>
<span class="t gm" style="left:1919.89px;top:1970.13px;font-size:35.89px;transform:scaleX(1.0320);-webkit-text-stroke:1.55px #fff">Salt</span>
<span class="t gm" style="left:1633.88px;top:2026.78px;font-size:35.89px;transform:scaleX(1.0290);-webkit-text-stroke:1.55px #fff">(Sodium Chloride),</span>
<span class="t gm" style="left:1634.96px;top:2083.43px;font-size:35.89px;transform:scaleX(1.0499);-webkit-text-stroke:1.55px #fff">Cocoa Powder,</span>
<span class="t gm" style="left:1633.52px;top:2140.08px;font-size:35.89px;transform:scaleX(1.0101);-webkit-text-stroke:1.55px #fff">Magnesium Malate,</span>
<span class="t gm" style="left:1633.47px;top:2196.73px;font-size:35.89px;transform:scaleX(1.0278);-webkit-text-stroke:1.55px #fff">Potassium Chloride,</span>
<span class="t gm" style="left:1633.49px;top:2253.38px;font-size:35.89px;transform:scaleX(1.0212);-webkit-text-stroke:1.55px #fff">Natural Chocolate</span>
<span class="t gm" style="left:1633.59px;top:2310.03px;font-size:35.89px;transform:scaleX(0.9835);-webkit-text-stroke:1.55px #fff">Flavor, Stevia Leaf</span>
<span class="t gm" style="left:1633.41px;top:2366.68px;font-size:35.89px;transform:scaleX(1.0519);-webkit-text-stroke:1.55px #fff">Extract.</span>
<span class="t gb" style="left:2083.04px;top:1966.77px;font-size:41.15px;transform:scaleX(0.9400);letter-spacing:1.2px;color:#d9533e">Ingredients:</span>
<span class="t gm" style="left:2370.79px;top:1970.13px;font-size:35.89px;transform:scaleX(1.0335);-webkit-text-stroke:1.55px #fff">Salt</span>
<span class="t gm" style="left:2084.18px;top:2026.78px;font-size:35.89px;transform:scaleX(1.0287);-webkit-text-stroke:1.55px #fff">(Sodium Chloride),</span>
<span class="t gm" style="left:2083.74px;top:2083.43px;font-size:35.89px;transform:scaleX(1.0382);-webkit-text-stroke:1.55px #fff">Malic Acid,</span>
<span class="t gm" style="left:2083.82px;top:2140.08px;font-size:35.89px;transform:scaleX(1.0121);-webkit-text-stroke:1.55px #fff">Magnesium Malate,</span>
<span class="t gm" style="left:2083.77px;top:2196.73px;font-size:35.89px;transform:scaleX(1.0298);-webkit-text-stroke:1.55px #fff">Potassium Chloride,</span>
<span class="t gm" style="left:2086.03px;top:2253.38px;font-size:35.89px;transform:scaleX(1.0250);-webkit-text-stroke:1.55px #fff">Watermelon Flavor,</span>
<span class="t gm" style="left:2084.93px;top:2310.03px;font-size:35.89px;transform:scaleX(1.0076);-webkit-text-stroke:1.55px #fff">Stevia Leaf Extract.</span>
</body></html>
